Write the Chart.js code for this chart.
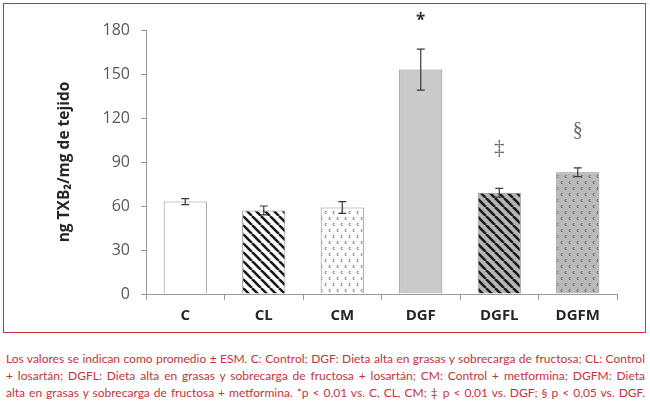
<!DOCTYPE html>
<html>
<head>
<meta charset="utf-8">
<script src="https://cdn.jsdelivr.net/npm/chart.js@4.4.1/dist/chart.umd.min.js"></script>
<style>
  html, body { margin: 0; padding: 0; background: #fff; }
  body { width: 650px; height: 403px; position: relative; overflow: hidden; }
  #frame { position: absolute; left: 3px; top: 3px; width: 641px; height: 328px; border: 1.5px solid #c9343d; }
  #wrap { position: absolute; left: 0; top: 0; width: 650px; height: 335px; }
  #caption { position: absolute; left: 6px; top: 350px; width: 639px; font-family: Lato, "Open Sans", sans-serif; font-size: 12px; color: #c3343b; line-height: 17px; }
  #caption div { white-space: nowrap; text-align: justify; text-align-last: justify; }
</style>
</head>
<body>
<div id="frame"></div>
<div id="wrap"><canvas id="chart"></canvas></div>
<div id="caption">
  <div>Los valores se indican como promedio ± ESM. C: Control; DGF: Dieta alta en grasas y sobrecarga de fructosa; CL: Control</div>
  <div>+ losartán; DGFL: Dieta alta en grasas y sobrecarga de fructosa + losartán; CM: Control + metformina; DGFM: Dieta</div>
  <div>alta en grasas y sobrecarga de fructosa + metformina. *p &lt; 0,01 vs. C, CL, CM; ‡ p &lt; 0,01 vs. DGF; § p &lt; 0,05 vs. DGF.</div>
</div>
<script>
const categories = ['C', 'CL', 'CM', 'DGF', 'DGFL', 'DGFM'];
const means = [63, 57, 59, 153, 69, 83];
const errors = [2, 3, 4, 14, 3, 3];
const marks = ['', '', '', '*', '‡', '§'];
const markValues = [null, null, null, 188, 99, 111];
const yMin = 0, yMax = 180, yStep = 30;
const yTitle = 'ng TXB₂/mg de tejido';

function stripes(bg, fg, size, lw) {
  const c = document.createElement('canvas');
  c.width = c.height = size;
  const g = c.getContext('2d');
  g.fillStyle = bg; g.fillRect(0, 0, size, size);
  g.strokeStyle = fg; g.lineWidth = lw;
  for (const o of [-size, 0, size]) {
    g.beginPath(); g.moveTo(o, 0); g.lineTo(o + size, size); g.stroke();
  }
  return g.createPattern(c, 'repeat');
}
function dots(bg, fg, w, h) {
  const c = document.createElement('canvas');
  c.width = w; c.height = h * 2;
  const g = c.getContext('2d');
  g.fillStyle = bg; g.fillRect(0, 0, w, h * 2);
  g.fillStyle = fg;
  const pts = [[1, 1], [1 + w / 2, 1 + h]];
  for (const [x, y] of pts) {
    g.fillRect(x, y, 1.5, 1); g.fillRect(x - 0.5, y + 1, 1, 1); g.fillRect(x, y + 2, 1.5, 1);
  }
  return g.createPattern(c, 'repeat');
}

function draw() {
  const fills = [
    '#ffffff',
    stripes('#ffffff', '#1a1a1a', 9, 2.6),
    dots('#ffffff', '#8a8a8a', 8, 6),
    '#c9cacc',
    stripes('#b5b6b8', '#1a1a1a', 9, 2.6),
    dots('#b9babc', '#6e6e6e', 8, 6)
  ];

  const errorBars = {
    id: 'errorBars',
    afterDatasetsDraw(chart) {
      const ctx = chart.ctx, y = chart.scales.y;
      const meta = chart.getDatasetMeta(0);
      ctx.save();
      ctx.strokeStyle = '#3a3a3a'; ctx.lineWidth = 1.2;
      meta.data.forEach((bar, i) => {
        const top = y.getPixelForValue(means[i] + errors[i]);
        const bot = y.getPixelForValue(means[i] - errors[i]);
        const x = bar.x, cap = 4;
        ctx.beginPath();
        ctx.moveTo(x, top); ctx.lineTo(x, bot);
        ctx.moveTo(x - cap, top); ctx.lineTo(x + cap, top);
        ctx.moveTo(x - cap, bot); ctx.lineTo(x + cap, bot);
        ctx.stroke();
      });
      ctx.textAlign = 'center'; ctx.textBaseline = 'middle';
      meta.data.forEach((bar, i) => {
        if (!marks[i]) return;
        const yy = y.getPixelForValue(markValues[i]);
        if (marks[i] === '*') {
          ctx.font = 'bold 17px "Open Sans"'; ctx.fillStyle = '#333';
          ctx.fillText(marks[i], bar.x, yy + 3);
        } else {
          ctx.font = marks[i] === '§' ? '20px "Liberation Serif"' : '21px "Liberation Serif"';
          ctx.fillStyle = '#6a6a6a';
          ctx.fillText(marks[i], bar.x, yy);
        }
      });
      ctx.restore();
    }
  };

  new Chart(document.getElementById('chart'), {
    type: 'bar',
    data: {
      labels: categories,
      datasets: [{
        data: means,
        backgroundColor: fills,
        borderColor: '#8e8e8e',
        borderWidth: 1,
        categoryPercentage: 1,
        barPercentage: 0.55
      }]
    },
    options: {
      responsive: true,
      maintainAspectRatio: false,
      animation: false,
      layout: { padding: { top: 30, right: 33, left: 0, bottom: 0 } },
      plugins: { legend: { display: false }, tooltip: { enabled: false } },
      scales: {
        x: {
          type: 'category',
          offset: true,
          grid: { offset: true, drawOnChartArea: false, drawTicks: true, tickLength: 6, color: '#9a9a9a' },
          border: { color: '#9a9a9a' },
          ticks: { color: '#262626', padding: 7, font: { family: 'Open Sans', weight: 'bold', size: 15 } },
          afterFit(s) { s.height = 41; }
        },
        y: {
          min: yMin, max: yMax,
          grid: { drawOnChartArea: false, drawTicks: true, tickLength: 5, color: '#9a9a9a' },
          border: { color: '#9a9a9a' },
          ticks: { stepSize: yStep, color: '#595959', padding: 11, font: { family: 'Open Sans', size: 16 } },
          title: { display: true, text: yTitle, color: '#262626', padding: { top: 55, bottom: 0 }, font: { family: 'Open Sans', weight: 'bold', size: 15.5 } },
          afterFit(s) { s.width = 146; }
        }
      }
    },
    plugins: [errorBars]
  });
}

Promise.all([
  document.fonts.load('bold 15px "Open Sans"'),
  document.fonts.load('16px "Open Sans"'),
  document.fonts.load('17px "Liberation Serif"'),
  document.fonts.load('12px Lato')
]).then(draw, draw);
</script>
</body>
</html>
